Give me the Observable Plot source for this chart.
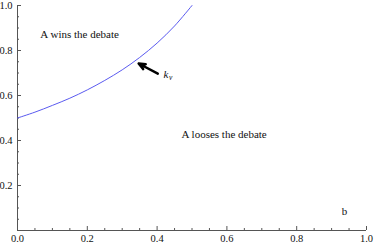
<!DOCTYPE html>
<html>
<head>
<meta charset="utf-8">
<script src="https://cdn.jsdelivr.net/npm/d3@7"></script>
<script src="https://cdn.jsdelivr.net/npm/@observablehq/plot@0.6"></script>
<style>
  html, body { margin: 0; padding: 0; background: #fff; }
  #chart svg { display: block; }
</style>
</head>
<body>
<div id="chart"></div>
<script>
// curve k_v(b)
const bValues  = [0, 0.05, 0.10, 0.15, 0.20, 0.25, 0.30, 0.35, 0.40, 0.45, 0.50];
const kvValues = [0.50, 0.526, 0.556, 0.588, 0.625, 0.667, 0.714, 0.769, 0.833, 0.909, 1.00];

// tick values
const majorTicks = [0, 0.2, 0.4, 0.6, 0.8, 1.0];
const minorTicks = [0.05, 0.1, 0.15, 0.25, 0.3, 0.35, 0.45, 0.5, 0.55, 0.65, 0.7, 0.75, 0.85, 0.9, 0.95];
const yLabelTicks = [0.2, 0.4, 0.6, 0.8, 1.0];

// annotations
const regionLabels = ["A wins the debate", "A looses the debate", "b"];
const regionX = [0.178, 0.592, 0.937];
const regionY = [0.871, 0.427, 0.086];
const arrowFrom = [0.402, 0.697];
const arrowTo = [0.347, 0.742];
const kvLabelPos = [0.418, 0.693];

const curve = bValues.map((b, i) => ({b, kv: kvValues[i]}));
const labels = regionLabels.map((t, i) => ({t, x: regionX[i], y: regionY[i]}));

const W = 374, H = 245;
const mL = 17, mR = 8, mT = 5, mB = 15;
const pw = W - mL - mR, ph = H - mT - mB;
const font = "'Liberation Serif', 'Times New Roman', serif";
const axisColor = "#555";

const chart = Plot.plot({
  width: W,
  height: H,
  marginLeft: mL,
  marginRight: mR,
  marginTop: mT,
  marginBottom: mB,
  style: {fontFamily: font, fontSize: "10px", background: "#fff", overflow: "visible"},
  x: {domain: [0, 1], label: null},
  y: {domain: [0, 1], label: null},
  marks: [
    // axis lines
    Plot.ruleX([0], {stroke: axisColor, strokeWidth: 1}),
    Plot.ruleY([0], {stroke: axisColor, strokeWidth: 1}),
    // inward major ticks
    Plot.ruleX(majorTicks, {x: d => d, stroke: axisColor, insetTop: ph - 4}),
    Plot.ruleY(majorTicks, {y: d => d, stroke: axisColor, insetRight: pw - 4}),
    // inward minor ticks
    Plot.ruleX(minorTicks, {x: d => d, stroke: axisColor, insetTop: ph - 2}),
    Plot.ruleY(minorTicks, {y: d => d, stroke: axisColor, insetRight: pw - 2}),
    // tick labels
    Plot.axisX(majorTicks, {tickSize: 0, tickPadding: 4, tickFormat: d3.format(".1f"), fill: "#111", fontSize: 10.5, label: null}),
    Plot.axisY(yLabelTicks, {tickSize: 0, tickPadding: 5, tickFormat: d3.format(".1f"), fill: "#111", fontSize: 10.5, label: null}),
    // curve
    Plot.line(curve, {x: "b", y: "kv", stroke: "#5a5af0", strokeWidth: 1, curve: "catmull-rom"}),
    // arrow
    Plot.arrow([{x1: arrowFrom[0], y1: arrowFrom[1], x2: arrowTo[0], y2: arrowTo[1]}],
      {x1: "x1", y1: "y1", x2: "x2", y2: "y2", stroke: "black", strokeWidth: 2.4, headLength: 10, headAngle: 45}),
    // k_v label
    Plot.text([kvLabelPos], {x: d => d[0], y: d => d[1], text: () => "k", textAnchor: "start", fontStyle: "italic", fontSize: 11, fill: "#111"}),
    Plot.text([kvLabelPos], {x: d => d[0], y: d => d[1], text: () => "v", textAnchor: "start", fontStyle: "italic", fontSize: 7.5, dx: 5.5, dy: 3, fill: "#111"}),
    // region labels
    Plot.text(labels, {x: "x", y: "y", text: "t", fontSize: 11, fill: "#111"})
  ]
});
document.getElementById("chart").appendChild(chart);
</script>
</body>
</html>
